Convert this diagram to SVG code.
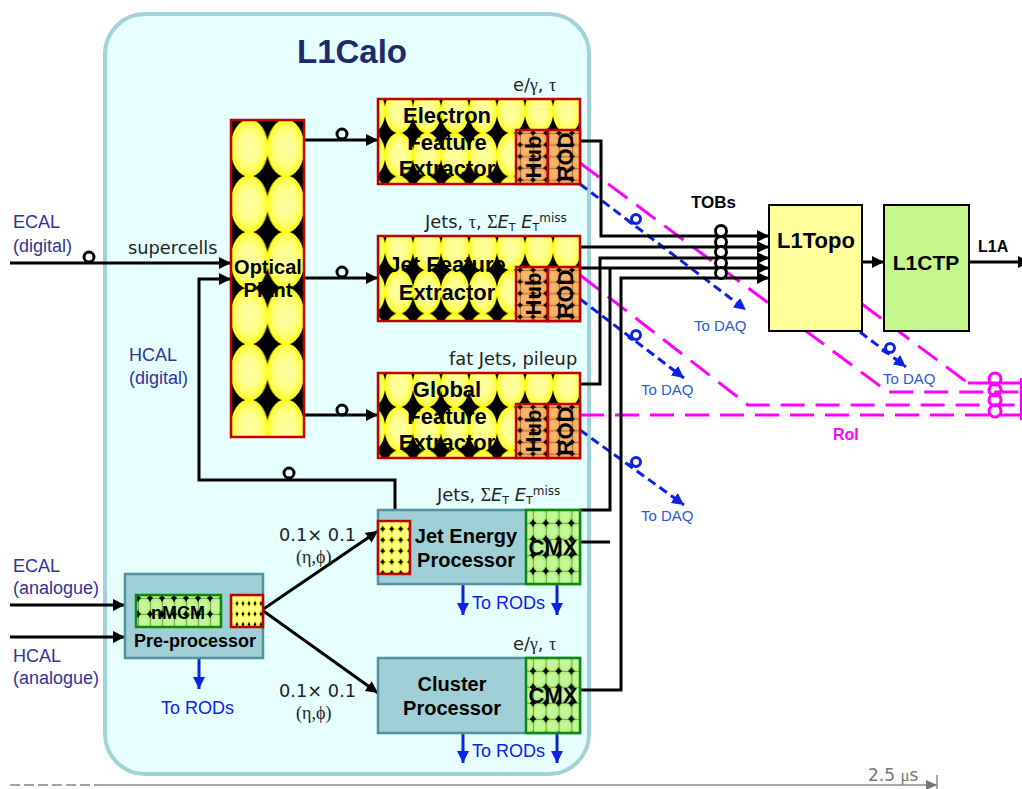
<svg xmlns="http://www.w3.org/2000/svg" width="1022" height="789" viewBox="0 0 1022 789">
<style>
text{font-family:"Liberation Sans",Arial,sans-serif}
.b{font-weight:bold;fill:#000;text-anchor:middle}
.d{font-family:"DejaVu Sans",sans-serif;font-size:17.8px;fill:#222}
.s{font-family:"Liberation Serif",serif}
.e{font-family:"Liberation Serif",serif;font-size:18px;fill:#222}
.i{font-style:italic}
.ind{font-size:18px;fill:#33339a}
.daq{font-size:15px;fill:#2a5ae0}
.rod{font-size:18px;fill:#0a22e8}
.k{fill:none;stroke:#000;stroke-width:3}
.ka{fill:none;stroke:#000;stroke-width:3;marker-end:url(#ak)}
.p{fill:none;stroke:#f0f;stroke-width:3;stroke-dasharray:24 11}
.ps{fill:none;stroke:#f0f;stroke-width:3}
.bd{fill:none;stroke:#0a22e8;stroke-width:3;stroke-dasharray:9 5;marker-end:url(#ab)}
.ba{fill:none;stroke:#0a22e8;stroke-width:3;marker-end:url(#ab)}
.r{fill:#fff;stroke:#000;stroke-width:3}
.rt{fill:none;stroke:#000;stroke-width:3}
.rb{fill:none;stroke:#0a22e8;stroke-width:3}
.rp{fill:none;stroke:#f0f;stroke-width:3}
.red{stroke:#c00000;stroke-width:2.5}
.grn{stroke:#0a8a0a;stroke-width:2.5}
.teal{fill:#9fd0d7;stroke:#52929c;stroke-width:2.5}
</style>
<defs>
<radialGradient id="gy"><stop offset="0.4" stop-color="#ffff98"/><stop offset="0.8" stop-color="#ffff60"/><stop offset="1" stop-color="#ffff00"/></radialGradient>
<radialGradient id="gg"><stop offset="0.5" stop-color="#c4f79a"/><stop offset="1" stop-color="#a8f070"/></radialGradient>
<radialGradient id="go"><stop offset="0.5" stop-color="#f8b56c"/><stop offset="1" stop-color="#f4a24c"/></radialGradient>
<pattern id="pOp" patternUnits="userSpaceOnUse" width="36.5" height="56">
<rect width="36.5" height="56" fill="#000"/><ellipse cx="18.25" cy="28" rx="18.8" ry="28.6" fill="url(#gy)"/></pattern>
<pattern id="pFx" patternUnits="userSpaceOnUse" x="7" y="-9.5" width="28" height="43.5">
<rect width="28" height="43.5" fill="#000"/><ellipse cx="14" cy="21.75" rx="14.3" ry="22" fill="url(#gy)"/></pattern>
<pattern id="pHub" patternUnits="userSpaceOnUse" x="12" y="10.6" width="13" height="11.7">
<rect width="13" height="11.7" fill="#000"/><ellipse cx="6.5" cy="5.85" rx="7.2" ry="6.5" fill="url(#go)"/><path d="M0 0H13M0 0V11.7" stroke="#000" stroke-width="0.6"/></pattern>
<pattern id="pCmx" patternUnits="userSpaceOnUse" x="7" y="13" width="12.8" height="16">
<rect width="12.8" height="16" fill="#000"/><ellipse cx="6.4" cy="8" rx="7" ry="8.8" fill="url(#gg)"/><path d="M0 0H12.8M0 0V16" stroke="#000" stroke-width="0.6"/></pattern>
<pattern id="pCmx2" patternUnits="userSpaceOnUse" x="2" y="3" width="12" height="16">
<rect width="12" height="16" fill="#000"/><ellipse cx="6" cy="8" rx="6.6" ry="8.8" fill="url(#gg)"/><path d="M0 0H12M0 0V16" stroke="#000" stroke-width="0.6"/></pattern>
<pattern id="pY1" patternUnits="userSpaceOnUse" x="4.7" y="8" width="9" height="11">
<rect width="9" height="11" fill="#000"/><ellipse cx="4.5" cy="5.5" rx="4.8" ry="5.9" fill="url(#gy)"/></pattern>
<pattern id="pY2" patternUnits="userSpaceOnUse" x="0" y="-2" width="6" height="10.5">
<rect width="6" height="10.5" fill="#000"/><ellipse cx="3" cy="5.25" rx="3.3" ry="5.7" fill="url(#gy)"/></pattern>
<marker id="ak" markerUnits="userSpaceOnUse" markerWidth="14" markerHeight="12" refX="12" refY="6" orient="auto"><path d="M0 0L12 6L0 12Z" fill="#000"/></marker>
<marker id="ab" markerUnits="userSpaceOnUse" markerWidth="14" markerHeight="12" refX="12" refY="6" orient="auto"><path d="M0 0L12 6L0 12Z" fill="#0a22e8"/></marker>
<marker id="ag" markerUnits="userSpaceOnUse" markerWidth="12" markerHeight="12" refX="11" refY="5" orient="auto"><path d="M0 0L11 5L0 10Z" fill="#777"/></marker>
</defs>

<g id="l1calo">
<rect x="105" y="14" width="484" height="760" rx="40" fill="#e6ffff" stroke="#a2d2d8" stroke-width="4"/>
<text x="352" y="63" text-anchor="middle" font-size="33" font-weight="bold" fill="#1f2a6b">L1Calo</text>
</g>

<g id="connectors">
<path class="p" d="M580 163L888 392H1022"/>
<path class="p" d="M580 275L748 405H1022"/>
<path class="p" d="M580 415H1022"/>
<path class="p" d="M862 304L968 383"/>
<path class="ps" d="M968 383H1022"/>
<path d="M1021 378V420" stroke="#f0f" stroke-width="2" fill="none"/>
<circle class="rp" cx="995" cy="379" r="6"/><circle class="rp" cx="995" cy="390" r="6"/><circle class="rp" cx="995" cy="400" r="6"/><circle class="rp" cx="995" cy="411" r="6"/>
<path class="bd" d="M580 184L746 310"/>
<path class="bd" d="M580 299L684 378"/>
<path class="bd" d="M580 430L684 505"/>
<path class="bd" d="M860 332L906 367"/>
<g class="rb"><circle cx="636" cy="219" r="4.5"/><circle cx="636" cy="335" r="4.5"/><circle cx="636" cy="462" r="4.5"/><circle cx="890" cy="348" r="4.5"/>
<path d="M628 221L633 224M628 337L633 340M628 464L633 467M882 350L887 353"/></g>
<path class="ka" d="M305 140H378"/>
<path class="ka" d="M305 278H378"/>
<path class="ka" d="M305 415H378"/>
<path class="ka" d="M10 263H231"/>
<path class="ka" d="M395 510V480H199V279H231"/>
<path class="ka" d="M262 610L378 531"/>
<path class="ka" d="M262 610L378 693"/>
<path class="ka" d="M10 605H125"/>
<path class="ka" d="M10 637H125"/>
<path class="ka" d="M580 141H601V236H769"/>
<path class="ka" d="M580 247H769"/>
<path class="ka" d="M580 384H600V258H769"/>
<path class="ka" d="M580 268H769"/>
<path class="k" d="M580 510H610V268"/>
<path class="k" d="M580 542H610"/>
<path class="ka" d="M580 690H621V278H769"/>
<path class="ka" d="M862 262H884"/>
<path class="ka" d="M969 262H1030"/>
<circle class="rt" cx="89" cy="257" r="5"/>
<circle class="rt" cx="342" cy="134" r="5"/>
<circle class="rt" cx="342" cy="272" r="5"/>
<circle class="rt" cx="342" cy="410" r="5"/>
<circle class="rt" cx="289" cy="473" r="5"/>
<circle class="r" cx="721" cy="231" r="5.5"/><circle class="r" cx="721" cy="242" r="5.5"/><circle class="r" cx="721" cy="252" r="5.5"/><circle class="r" cx="721" cy="263" r="5.5"/><circle class="r" cx="721" cy="273" r="5.5"/>
<path class="ba" d="M463 585V615"/>
<path class="ba" d="M557 585V615"/>
<path class="ba" d="M463 733V763"/>
<path class="ba" d="M557 733V763"/>
<path class="ba" d="M199 659V689"/>
<path d="M10 785H100" stroke="#888" stroke-width="1.5" stroke-dasharray="10 4" fill="none"/>
<path d="M100 785H937" stroke="#888" stroke-width="1.5" fill="none" marker-end="url(#ag)"/>
<path d="M937 775V790" stroke="#888" stroke-width="1.5" fill="none"/>
</g>

<g id="optical-plant" transform="translate(231,120)">
<rect width="73" height="317" fill="url(#pOp)" class="red"/>
<text class="b" x="37" y="154" font-size="20">Optical</text><text class="b" x="37" y="177" font-size="20">Plant</text>
</g>

<g id="electron-fex" transform="translate(378,99)">
<rect width="202" height="85" fill="url(#pFx)" class="red"/>
<rect x="138" y="31" width="32" height="54" fill="url(#pHub)" class="red"/>
<rect x="170" y="31" width="32" height="54" fill="url(#pHub)" class="red"/>
<text class="b" x="69" y="24" font-size="22">Electron</text><text class="b" x="69" y="51" font-size="22">Feature</text><text class="b" x="69" y="77" font-size="22">Extractor</text>
<text class="b" font-size="22" transform="translate(163,58) rotate(-90)">Hub</text>
<text class="b" font-size="22" transform="translate(195,58) rotate(-90)">ROD</text>
</g>

<g id="jet-fex" transform="translate(378,236)">
<rect width="202" height="85" fill="url(#pFx)" class="red"/>
<rect x="138" y="31" width="32" height="54" fill="url(#pHub)" class="red"/>
<rect x="170" y="31" width="32" height="54" fill="url(#pHub)" class="red"/>
<text class="b" x="69" y="36" font-size="22">Jet Feature</text><text class="b" x="69" y="64" font-size="22">Extractor</text>
<text class="b" font-size="22" transform="translate(163,58) rotate(-90)">Hub</text>
<text class="b" font-size="22" transform="translate(195,58) rotate(-90)">ROD</text>
</g>

<g id="global-fex" transform="translate(378,373)">
<rect width="202" height="85" fill="url(#pFx)" class="red"/>
<rect x="138" y="31" width="32" height="54" fill="url(#pHub)" class="red"/>
<rect x="170" y="31" width="32" height="54" fill="url(#pHub)" class="red"/>
<text class="b" x="69" y="24" font-size="22">Global</text><text class="b" x="69" y="51" font-size="22">Feature</text><text class="b" x="69" y="77" font-size="22">Extractor</text>
<text class="b" font-size="22" transform="translate(163,58) rotate(-90)">Hub</text>
<text class="b" font-size="22" transform="translate(195,58) rotate(-90)">ROD</text>
</g>

<g id="jep" transform="translate(378,510)">
<rect width="202" height="74" class="teal"/>
<g transform="translate(0,11)"><rect width="32" height="53" fill="url(#pY1)" class="red"/></g>
<g transform="translate(148,0)"><rect width="54" height="74" fill="url(#pCmx)" class="grn"/>
<text class="b" x="27" y="45" font-size="22">CMX</text></g>
<text class="b" x="88" y="33" font-size="20">Jet Energy</text><text class="b" x="88" y="57" font-size="20">Processor</text>
</g>

<g id="cluster-processor" transform="translate(378,658)">
<rect width="202" height="75" class="teal"/>
<g transform="translate(148,0)"><rect width="54" height="75" fill="url(#pCmx)" class="grn"/>
<text class="b" x="27" y="45" font-size="22">CMX</text></g>
<text class="b" x="74" y="33" font-size="20">Cluster</text><text class="b" x="74" y="57" font-size="20">Processor</text>
</g>

<g id="pre-processor" transform="translate(125,574)">
<rect width="138" height="84" class="teal"/>
<g transform="translate(11,21)"><rect width="85" height="32" fill="url(#pCmx2)" class="grn"/>
<text class="b" x="42" y="24" font-size="18">nMCM</text></g>
<g transform="translate(106,21)"><rect width="32" height="32" fill="url(#pY2)" class="red"/></g>
<text class="b" x="70" y="73" font-size="18">Pre-processor</text>
</g>

<g id="l1topo"><rect x="769" y="205" width="93" height="126" fill="#ffff9c" stroke="#000" stroke-width="2"/><text class="b" x="816" y="248" font-size="22">L1Topo</text></g>
<g id="l1ctp"><rect x="884" y="205" width="85" height="126" fill="#c4f78c" stroke="#000" stroke-width="2"/><text class="b" x="926" y="270" font-size="21">L1CTP</text></g>

<g id="labels">
<text class="ind" x="13" y="228">ECAL</text><text class="ind" x="13" y="252">(digital)</text>
<text class="ind" x="129" y="361">HCAL</text><text class="ind" x="129" y="384">(digital)</text>
<text class="ind" x="13" y="572">ECAL</text><text class="ind" x="13" y="594">(analogue)</text>
<text class="ind" x="13" y="662">HCAL</text><text class="ind" x="13" y="684">(analogue)</text>
<text class="d" x="128" y="254">supercells</text>
<text class="d" x="513" y="91">e/<tspan class="s">γ</tspan>, <tspan class="s">τ</tspan></text>
<text class="d" x="425" y="228">Jets, <tspan class="s">τ</tspan>, <tspan class="s">Σ</tspan><tspan class="i">E</tspan><tspan font-size="11" dy="3">T</tspan><tspan dy="-3"> </tspan><tspan class="i">E</tspan><tspan font-size="11" dy="3">T</tspan><tspan font-size="12" dy="-9">miss</tspan></text>
<text class="d" x="449" y="365">fat Jets, pileup</text>
<text class="d" x="437" y="501">Jets, <tspan class="s">Σ</tspan><tspan class="i">E</tspan><tspan font-size="11" dy="3">T</tspan><tspan dy="-3"> </tspan><tspan class="i">E</tspan><tspan font-size="11" dy="3">T</tspan><tspan font-size="12" dy="-9">miss</tspan></text>
<text class="d" x="513" y="650">e/<tspan class="s">γ</tspan>, <tspan class="s">τ</tspan></text>
<text class="d" x="279" y="541">0.1× 0.1</text><text class="e" x="296" y="563">(η,ϕ)</text>
<text class="d" x="279" y="697">0.1× 0.1</text><text class="e" x="296" y="719">(η,ϕ)</text>
<text x="691" y="208" font-size="17" font-weight="bold" fill="#000">TOBs</text>
<text x="978" y="252" font-size="16" font-weight="bold" fill="#000">L1A</text>
<text x="833" y="440" font-size="16" font-weight="bold" fill="#f0f">RoI</text>
<text class="daq" x="694" y="331">To DAQ</text><text class="daq" x="641" y="395">To DAQ</text><text class="daq" x="641" y="521">To DAQ</text><text class="daq" x="883" y="384">To DAQ</text>
<text class="rod" x="472" y="609">To RODs</text><text class="rod" x="472" y="757">To RODs</text><text class="rod" x="161" y="714">To RODs</text>
<text x="868" y="781" font-size="17" fill="#777" style="font-family:'DejaVu Sans',sans-serif">2.5 <tspan class="s">μ</tspan>s</text>
</g>
</svg>
